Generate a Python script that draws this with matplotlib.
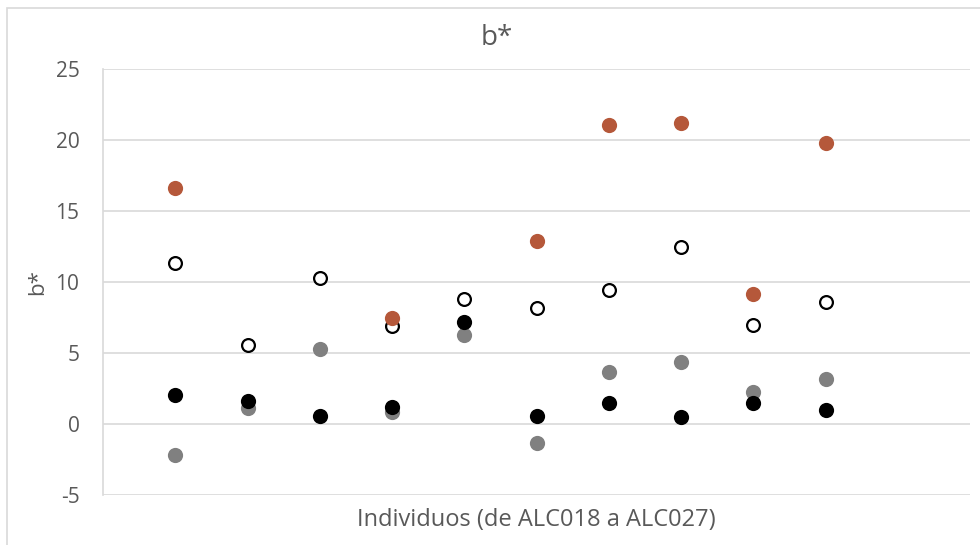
import numpy as np
import matplotlib
matplotlib.use("Agg")
import matplotlib.pyplot as plt
from matplotlib.patches import Rectangle

plt.rcParams['font.family'] = ['Open Sans', 'DejaVu Sans']
plt.rcParams['axes.unicode_minus'] = False

# individuos ALC018..ALC027 -> posiciones 1..10
individuos = np.arange(1, 11)
# serie blanca (hueca)
b_hueca = [11.35, 5.55, 10.26, 6.9, 8.8, 8.17, 9.46, 12.44, 7.0, 8.62]
# serie gris
b_gris = [-2.2, 1.12, 5.29, 0.84, 6.28, -1.31, 3.65, 4.4, 2.25, 3.18]
# serie negra
b_negra = [2.01, 1.59, 0.56, 1.17, 7.17, 0.56, 1.5, 0.49, 1.5, 0.96]
# serie marron (faltan algunos individuos)
b_marron = [16.6, np.nan, np.nan, 7.47, np.nan, 12.86, 21.05, 21.2, 9.16, 19.8]

txt = "#595959"
gridc = "#d9d9d9"

fig = plt.figure(figsize=(9.8, 5.45), dpi=100)
# borde del area del grafico (estilo Excel)
fig.patches.append(Rectangle((7/980, -0.01), 1.0, 1 - 8/545 + 0.01, transform=fig.transFigure,
                             fill=False, edgecolor=gridc, lw=1.2))
ax = fig.add_axes([103/980, 1 - 495/545, (970-103)/980, (495-69)/545])

ax.scatter(individuos, b_hueca, s=85, facecolor="white", edgecolor="black", linewidth=1.6, zorder=3)
ax.scatter(individuos, b_gris, s=120, color="#808080", linewidth=0, zorder=4)
ax.scatter(individuos, b_negra, s=120, color="black", linewidth=0, zorder=5)
ax.scatter(individuos, b_marron, s=120, color="#b5583a", linewidth=0, zorder=6)

ax.set_xlim(0, 12)
ax.set_ylim(-5, 25)
ax.set_yticks(np.arange(-5, 26, 5))
ax.set_xticks([])
ax.grid(axis="y", color=gridc, lw=1.2)
ax.set_axisbelow(True)
for s in ["top", "right", "bottom"]:
    ax.spines[s].set_visible(False)
ax.spines["left"].set_color(gridc)
ax.spines["left"].set_linewidth(1.2)
ax.tick_params(axis="y", length=0, pad=17, labelsize=15, labelcolor=txt)

fig.text(497/980, 1 - 38/545, "b*", fontsize=20, color=txt, ha="center", va="center")
ax.set_ylabel("b*", fontsize=16, color=txt, labelpad=5)
ax.set_xlabel("Individuos (de ALC018 a ALC027)", fontsize=17, color=txt, labelpad=9)

fig.savefig("out.png", dpi=100)
